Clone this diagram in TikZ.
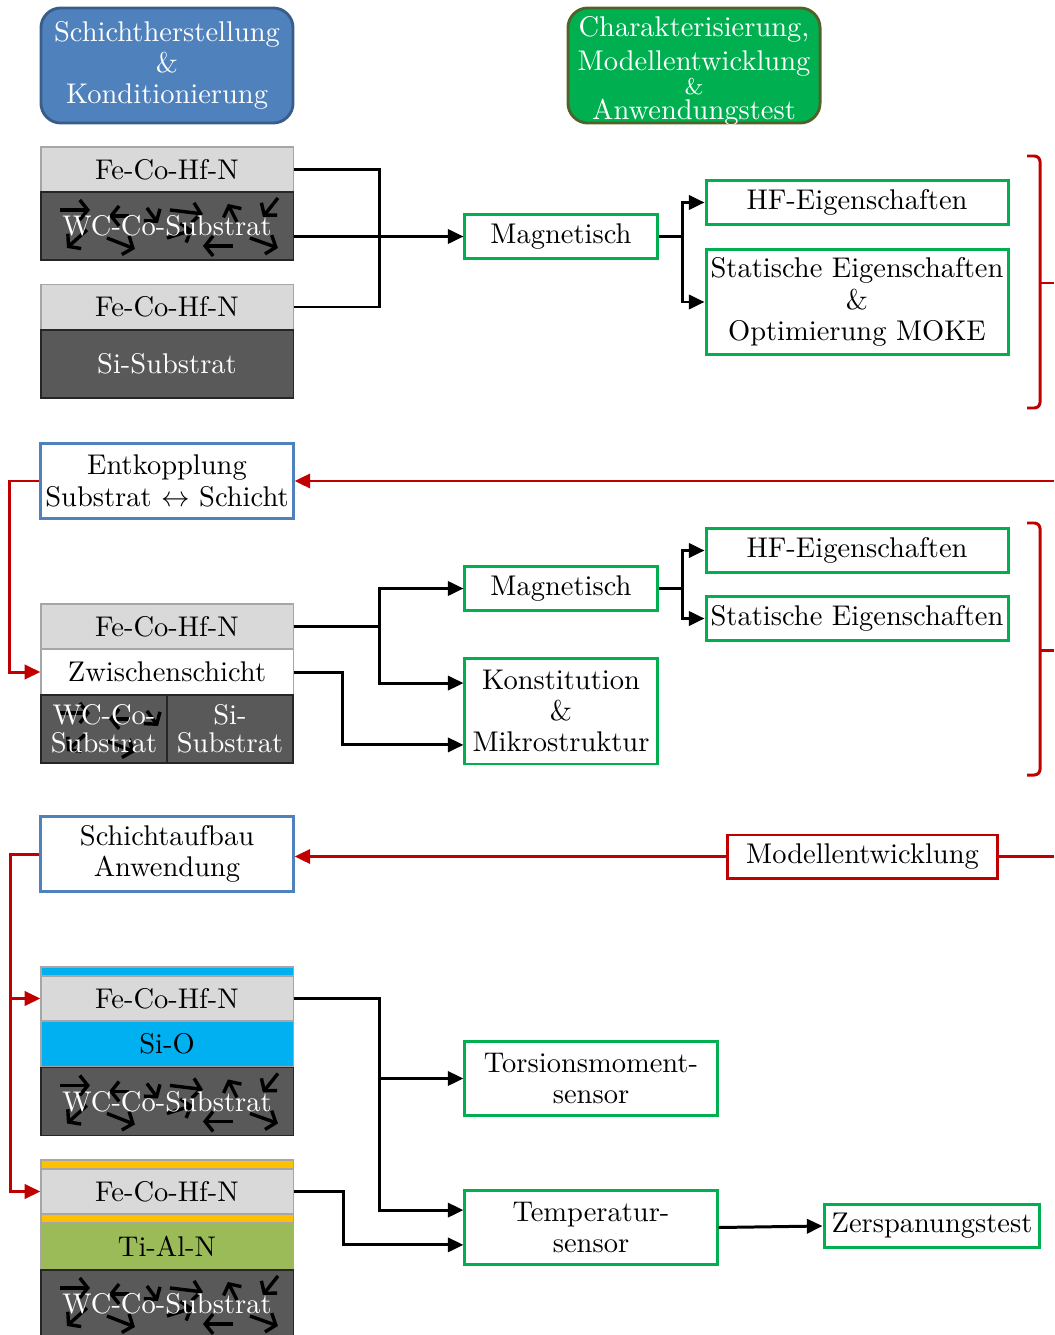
\documentclass[tikz,border=0pt]{standalone}
\usepackage{tikz}
\usetikzlibrary{arrows.meta}

\definecolor{hdrblue}{HTML}{4F81BD}
\definecolor{hdrblueb}{HTML}{385D8A}
\definecolor{hdrgreen}{HTML}{00B050}
\definecolor{hdrgreenb}{HTML}{4F6228}
\definecolor{boxred}{HTML}{C00000}
\definecolor{sioblue}{HTML}{00B0F0}
\definecolor{bondgold}{HTML}{FFC000}
\definecolor{tialgreen}{HTML}{9BBB59}

\tikzset{
  every node/.style={font=\fontsize{10}{11}\selectfont, align=center, inner sep=.5pt},
  headblue/.style={rectangle, rounded corners=7pt, fill=hdrblue, draw=hdrblueb, line width=1pt,
    text=white, minimum width=88.5pt, minimum height=40.4pt},
  headgreen/.style={headblue, fill=hdrgreen, draw=hdrgreenb},
  layer/.style={rectangle, minimum width=88.5pt, draw=black!35, line width=.4pt},
  fecohf/.style={layer, fill=black!15, minimum height=15.8pt},
  subst/.style={layer, fill=black!65, draw=black!85, text=white, minimum height=23.9pt},
  wcco/.style={subst, path picture={\pic at (path picture bounding box.north west) {wcarrows};}},
  thinlayer/.style={layer, minimum height=3.2pt},
  greenbox/.style={rectangle, draw=hdrgreen, line width=1.05pt, fill=white},
  bluebox/.style={rectangle, draw=hdrblue, line width=1.05pt, fill=white,
    minimum width=88.5pt, minimum height=26pt},
  redbox/.style={rectangle, draw=boxred, line width=1.05pt, fill=white,
    minimum width=95.1pt, minimum height=15.1pt},
  link/.style={line width=1.05pt},
  conn/.style={link, -{Triangle[length=5.5pt,width=5pt]}},
  redline/.style={boxred, line width=1.05pt},
  redconn/.style={redline, -{Triangle[length=5.5pt,width=5pt]}},
  wcarrow/.style={draw=black, line width=1.2pt, -{Straight Barb[length=2.8pt,width=7pt]}},
  wcarrows/.pic={
    \draw[wcarrow] (19,18) -- (49,18);
    \draw[wcarrow] (46,38) -- (26,56);
    \draw[wcarrow] (88,24) -- (68,24);
    \draw[wcarrow] (66,46) -- (94,57);
    \draw[wcarrow] (106,16) -- (117,31);
    \draw[wcarrow] (129,18) -- (162,22);
    \draw[wcarrow] (126,46) -- (152,38);
    \draw[wcarrow] (196,30) -- (187,12);
    \draw[wcarrow] (192,54) -- (162,54);
    \draw[wcarrow] (209,46) -- (237,56);
    \draw[wcarrow] (237,6) -- (222,25);
  }
}

\begin{document}
\begin{tikzpicture}[x=.351pt,y=-.351pt]
\useasboundingbox (0,0) rectangle (1054,1335);

% headers
\node[headblue] (hdrL) at (167,65.5) {Schichtherstellung\\\&\\Konditionierung};
\node[headgreen] (hdrR) at (694,65.5) {};
\node[text=white] (hdrRtext) at ([yshift=-1.8pt]hdrR.center) {Charakterisierung,\\[1pt]Modellentwicklung\\[-2.5pt]{\footnotesize\&}\\[-2.5pt]Anwendungstest};

% first row
\node[fecohf] (feA) at (167,169.5) {Fe-Co-Hf-N};
\node[wcco] (wcA) at (167,226) {WC-Co-Substrat};
\node[fecohf] (feB) at (167,307) {Fe-Co-Hf-N};
\node[subst] (siB) at (167,364) {Si-Substrat};

\node[greenbox, minimum width=67.4pt, minimum height=15.1pt] (magA) at (561,236.5) {Magnetisch};
\node[greenbox, minimum width=106pt, minimum height=15.1pt] (hfA) at (857,202.5) {HF-Eigenschaften};
\node[greenbox, minimum width=106pt, minimum height=37.2pt] (statA) at (857,302) {Statische Eigenschaften\\\&\\Optimierung MOKE};

\draw[link] (feA.east) -- ++(86,0) |- (feB.east);
\draw[conn] (wcA.east |- magA.west) -- (magA.west);
\draw[conn] (magA.east) -- ++(24,0) |- (hfA.west);
\draw[conn] (magA.east) -- ++(24,0) |- (statA.west);

\draw[redline, rounded corners=2pt] (1027,156) -- (1040,156) -- (1040,408) -- (1027,408);
\draw[redline] (1040,283) -- (1054,283);

% second row
\node[bluebox] (entk) at (167,481) {Entkopplung\\Substrat $\leftrightarrow$ Schicht};
\coordinate (backA) at (1054,481);
\draw[redconn] (backA) -- (entk.east);

\node[fecohf] (feC) at (167,626.5) {Fe-Co-Hf-N};
\node[layer, fill=white, minimum height=16.1pt] (zwC) at (167,672) {Zwischenschicht};
\node[wcco, minimum width=44.25pt] (wcC) at (104,729) {WC-Co-\\[-1pt]Substrat};
\node[subst, minimum width=44.25pt] (siC) at (230,729) {Si-\\[-1pt]Substrat};

\draw[redconn] (entk.west) -- ++(-30,0) |- (zwC.west);

\node[greenbox, minimum width=67.4pt, minimum height=15.1pt] (magC) at (561,588.5) {Magnetisch};
\node[greenbox, minimum width=67.4pt, minimum height=37.2pt] (konC) at (561,711) {Konstitution\\\&\\Mikrostruktur};
\node[greenbox, minimum width=106pt, minimum height=15.1pt] (hfC) at (857,550.5) {HF-Eigenschaften};
\node[greenbox, minimum width=106pt, minimum height=15.1pt] (statC) at (857,618.5) {Statische Eigenschaften};

\draw[conn] (feC.east) -- ++(86,0) |- (magC.west);
\draw[conn] (feC.east) -- ++(86,0) |- ([yshift=9.8pt]konC.west);
\draw[conn] (zwC.east) -- ++(49,0) |- ([yshift=-11.9pt]konC.west);
\draw[conn] (magC.east) -- ++(24,0) |- (hfC.west);
\draw[conn] (magC.east) -- ++(24,0) |- (statC.west);

\draw[redline, rounded corners=2pt] (1027,523) -- (1040,523) -- (1040,775) -- (1027,775);
\draw[redline] (1040,650) -- (1054,650);

% third row
\node[bluebox] (aufbau) at (167,854) {Schichtaufbau\\Anwendung};
\node[redbox] (modell) at (862.5,856.5) {Modellentwicklung};
\coordinate (backB) at (1054,856.5);
\draw[redline] (backB) -- (modell.east);
\draw[redconn] (modell.west) -- (aufbau.east |- modell.west);

\node[thinlayer, fill=sioblue] (thinD) at (167,971.5) {};
\node[fecohf] (feD) at (167,998.5) {Fe-Co-Hf-N};
\node[layer, fill=sioblue, minimum height=16.1pt] (sioD) at (167,1044) {Si-O};
\node[wcco] (wcD) at (167,1101.5) {WC-Co-Substrat};

\node[thinlayer, fill=bondgold] (thinE) at (167,1164.5) {};
\node[fecohf] (feE) at (167,1191.5) {Fe-Co-Hf-N};
\node[thinlayer, fill=bondgold] (bondE) at (167,1218.5) {};
\node[layer, fill=tialgreen, minimum height=16.5pt] (tialE) at (167,1246.5) {Ti-Al-N};
\node[wcco] (wcE) at (167,1304) {WC-Co-Substrat};

\draw[redconn] (aufbau.west) -- ++(-29,0) |- (feD.west);
\draw[redconn] (aufbau.west) -- ++(-29,0) |- (feE.west);

\node[greenbox, minimum width=88.5pt, minimum height=26.3pt] (torsion) at (591,1078.5) {Torsionsmoment-\\sensor};
\node[greenbox, minimum width=88.5pt, minimum height=26.3pt] (temp) at (591,1227.5) {Temperatur-\\sensor};
\node[greenbox, minimum width=75.8pt, minimum height=15.4pt] (zersp) at (932,1226) {Zerspanungstest};

\draw[conn] (feD.east) -- ++(86,0) |- (torsion.west);
\draw[conn] (feD.east) -- ++(86,0) |- ([yshift=6.1pt]temp.west);
\draw[conn] (feE.east) -- ++(50,0) |- ([yshift=-6.1pt]temp.west);
\draw[conn] (temp.east) -- (zersp.west);
\end{tikzpicture}
\end{document}
